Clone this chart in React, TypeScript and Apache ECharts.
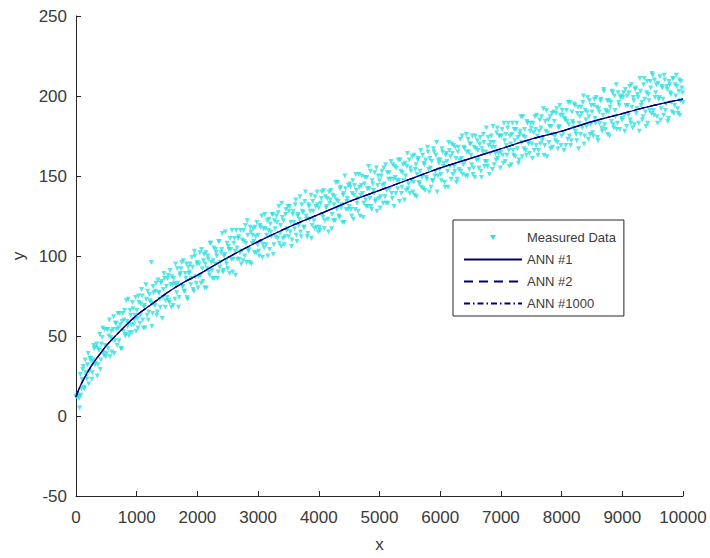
import React, { useEffect, useRef } from "react";
import * as echarts from "echarts";

// Measured data, set A: y values at x = 0, 20, 40, ... 10000
const measuredXStep = 20;
const measuredYA: number[] = [
  12, 13, 12, 5, 13, 23, 31, 17, 27, 23, 39, 28, 36, 23, 35, 42, 33, 45, 32, 41, 29, 45, 55, 38, 44,
  39, 54, 50, 37, 53, 48, 62, 47, 58, 44, 55, 64, 42, 59, 53, 66, 51, 59, 73, 52, 63, 52, 67, 60, 74,
  66, 55, 71, 63, 79, 60, 68, 55, 73, 78, 65, 72, 96, 64, 77, 69, 83, 65, 77, 73, 83, 61, 79, 86, 72,
  74, 88, 71, 82, 87, 69, 83, 95, 77, 83, 74, 89, 96, 81, 78, 89, 95, 73, 89, 95, 86, 93, 78, 100, 83,
  96, 87, 102, 83, 92, 97, 80, 102, 92, 98, 88, 108, 91, 97, 86, 104, 100, 90, 109, 96, 104, 90, 100, 115, 95,
  92, 104, 111, 98, 90, 108, 103, 116, 98, 112, 102, 95, 110, 116, 100, 108, 122, 103, 96, 115, 108, 117, 102, 112, 121,
  113, 100, 118, 125, 107, 105, 117, 113, 100, 123, 120, 112, 126, 107, 117, 125, 111, 131, 114, 106, 124, 122, 112, 129, 117,
  112, 131, 121, 110, 128, 117, 135, 109, 126, 123, 115, 132, 127, 118, 140, 123, 114, 131, 128, 111, 134, 122, 137, 118, 132,
  130, 116, 136, 126, 141, 122, 130, 136, 115, 133, 141, 126, 122, 137, 146, 129, 134, 124, 143, 132, 138, 121, 142, 134, 129,
  131, 143, 125, 147, 138, 129, 141, 136, 151, 125, 144, 139, 133, 149, 131, 142, 156, 136, 131, 147, 141, 152, 135, 128, 150,
  147, 137, 153, 133, 145, 157, 141, 133, 152, 148, 139, 157, 131, 149, 155, 142, 147, 160, 139, 152, 147, 158, 141, 164, 145,
  139, 153, 162, 146, 138, 157, 151, 161, 145, 166, 149, 142, 157, 160, 148, 165, 140, 155, 159, 147, 165, 153, 171, 150, 158,
  160, 147, 165, 158, 143, 164, 153, 171, 156, 148, 164, 169, 153, 161, 148, 168, 160, 153, 175, 157, 167, 150, 165, 173, 154,
  170, 157, 151, 168, 175, 160, 166, 155, 174, 149, 165, 171, 159, 180, 156, 169, 164, 175, 154, 171, 168, 160, 180, 164, 175,
  165, 179, 158, 172, 176, 163, 183, 156, 170, 176, 166, 179, 162, 183, 174, 160, 178, 171, 187, 167, 174, 163, 183, 170, 178,
  180, 161, 177, 187, 169, 175, 166, 185, 180, 172, 192, 169, 178, 162, 185, 181, 167, 189, 176, 184, 172, 192, 167, 181, 188,
  175, 188, 166, 185, 191, 173, 182, 196, 172, 184, 180, 194, 176, 189, 167, 187, 193, 180, 200, 175, 185, 190, 173, 197, 182,
  190, 175, 198, 183, 193, 172, 190, 197, 180, 188, 203, 179, 190, 176, 197, 193, 184, 202, 180, 191, 207, 183, 196, 179, 200,
  185, 202, 178, 194, 200, 188, 206, 183, 193, 199, 182, 205, 192, 199, 178, 203, 196, 187, 211, 190, 202, 183, 197, 209, 189,
  213, 188, 199, 207, 183, 198, 212, 192, 205, 188, 210, 195, 204, 186, 207, 201, 190, 211, 194, 200, 206, 189, 210, 197, 205,
  196,
];

// Measured data, set B: y values at x = 10, 30, 50, ... 9990
const measuredXOffsetB = 10;
const measuredYB: number[] = [
  12, 13, 11, 26, 17, 29, 18, 35, 25, 32, 20, 36, 34, 27, 44, 32, 43, 25, 42, 51, 35, 49, 40, 54, 37,
  54, 42, 60, 49, 40, 54, 39, 58, 54, 64, 47, 57, 42, 64, 60, 50, 72, 56, 50, 66, 57, 71, 57, 63, 53,
  61, 75, 58, 70, 75, 55, 69, 82, 63, 60, 76, 71, 56, 81, 70, 78, 63, 85, 77, 68, 84, 74, 89, 68, 81,
  86, 72, 91, 68, 82, 86, 73, 82, 92, 68, 88, 92, 81, 97, 78, 86, 74, 93, 90, 82, 99, 79, 103, 87, 95,
  80, 95, 88, 104, 84, 101, 95, 80, 100, 90, 108, 96, 86, 105, 95, 102, 86, 109, 93, 102, 114, 91, 101, 97, 108,
  106, 89, 104, 116, 98, 111, 88, 105, 111, 98, 116, 103, 97, 109, 119, 96, 113, 104, 118, 95, 113, 109, 118, 102, 107,
  103, 119, 109, 99, 117, 126, 107, 122, 116, 104, 115, 126, 101, 122, 112, 121, 127, 108, 119, 133, 111, 107, 126, 116, 131,
  128, 115, 106, 126, 121, 132, 113, 125, 119, 137, 112, 128, 118, 134, 125, 112, 132, 123, 138, 119, 128, 117, 131, 140, 115,
  118, 133, 140, 124, 117, 137, 131, 123, 140, 135, 117, 138, 132, 122, 135, 146, 125, 142, 130, 121, 139, 150, 129, 136, 144,
  145, 129, 139, 123, 144, 151, 133, 128, 143, 138, 150, 124, 145, 135, 149, 131, 142, 153, 129, 145, 139, 134, 155, 144, 136,
  130, 150, 144, 155, 137, 133, 152, 148, 142, 159, 136, 148, 156, 139, 147, 160, 134, 153, 143, 157, 135, 150, 156, 142, 160,
  155, 147, 140, 163, 154, 137, 160, 146, 153, 143, 163, 158, 141, 149, 168, 154, 161, 143, 147, 167, 150, 163, 140, 160, 154,
  151, 167, 156, 146, 163, 159, 143, 166, 162, 170, 151, 156, 168, 146, 165, 154, 173, 161, 151, 168, 159, 176, 150, 165, 170,
  163, 175, 155, 149, 167, 172, 160, 170, 153, 167, 176, 156, 165, 159, 174, 151, 171, 168, 181, 157, 164, 177, 161, 175, 155,
  175, 163, 183, 159, 169, 180, 166, 175, 157, 183, 163, 172, 179, 167, 158, 176, 187, 162, 175, 179, 166, 184, 171, 164, 183,
  170, 183, 166, 179, 188, 163, 178, 170, 187, 174, 163, 184, 191, 177, 171, 187, 181, 168, 190, 175, 189, 171, 180, 194, 169,
  191, 177, 186, 169, 184, 196, 175, 169, 190, 183, 195, 178, 172, 193, 183, 176, 189, 196, 170, 191, 181, 199, 187, 176, 194,
  177, 194, 186, 199, 174, 192, 183, 198, 178, 204, 182, 191, 197, 190, 175, 196, 203, 182, 200, 187, 179, 202, 194, 199, 186,
  199, 188, 204, 181, 194, 202, 185, 207, 180, 197, 204, 189, 201, 183, 211, 194, 185, 207, 198, 181, 209, 201, 191, 205, 214,
  191, 210, 202, 187, 208, 199, 185, 206, 198, 213, 191, 206, 184, 209, 202, 196, 211, 189, 207, 213, 192, 203, 188, 209, 202,
];

// ANN fits (all three networks overlap)
const annX = [0, 50, 100, 200, 300, 400, 500, 750, 1000, 1250, 1500, 1750, 2000, 2500, 3000, 3500, 4000, 4500, 5000, 5500, 6000, 6500, 7000, 7500, 8000, 8500, 9000, 9500, 10000];
const ann1Y = [12, 17, 21, 28, 34, 39, 44, 54, 63, 70, 77, 83, 88, 99, 109, 118, 126, 134, 141, 148, 155, 161, 167, 173, 178, 184, 189, 194, 198];
const ann2Y = [12, 17, 21, 28, 34, 39, 44, 54, 63, 70, 77, 83, 88, 99, 109, 118, 126, 134, 141, 148, 155, 161, 167, 173, 178, 184, 189, 194, 198];
const ann1000Y = [12, 17, 21, 28, 34, 39, 44, 54, 63, 70, 77, 83, 88, 99, 109, 118, 126, 134, 141, 148, 155, 161, 167, 173, 178, 184, 189, 194, 198];

const seriesNames = ["Measured Data", "ANN #1", "ANN #2", "ANN #1000"];

export default function App() {
  const ref = useRef<HTMLDivElement>(null);
  useEffect(() => {
    if (!ref.current) return;
    const chart = echarts.init(ref.current, undefined, { renderer: "svg" });
    const axisColor = "#262626";
    const labelColor = "#3a3a3a";
    const font = "Liberation Sans, Arial, Helvetica, sans-serif";
    const measured = [
      ...measuredYA.map((y, i) => [i * measuredXStep, y]),
      ...measuredYB.map((y, i) => [measuredXOffsetB + i * measuredXStep, y]),
    ];
    const pair = (ys: number[]) => annX.map((x, i) => [x, ys[i]]);
    const lineColor = "#00007a";
    const markerColor = "#2ee0e0";
    chart.setOption({
      animation: false,
      backgroundColor: "#ffffff",
      textStyle: { fontFamily: font },
      grid: { left: 76, right: 27, top: 16, bottom: 61, containLabel: false },
      xAxis: {
        type: "value",
        min: 0,
        max: 10000,
        interval: 1000,
        name: "x",
        nameLocation: "middle",
        nameGap: 40,
        nameTextStyle: { fontSize: 17, color: labelColor, fontFamily: font },
        axisLine: { show: true, onZero: false, lineStyle: { color: axisColor, width: 1 } },
        axisTick: { show: true, inside: true, length: 5, lineStyle: { color: axisColor } },
        axisLabel: {
          fontSize: 17,
          color: labelColor,
          margin: 13,
          fontFamily: font,
          formatter: (v: number) => String(v),
        },
        splitLine: { show: false },
      },
      yAxis: {
        type: "value",
        min: -50,
        max: 250,
        interval: 50,
        name: "y",
        nameLocation: "middle",
        nameGap: 49,
        nameTextStyle: { fontSize: 17, color: labelColor, fontFamily: font },
        axisLine: { show: true, onZero: false, lineStyle: { color: axisColor, width: 1 } },
        axisTick: { show: true, inside: true, length: 5, lineStyle: { color: axisColor } },
        axisLabel: {
          fontSize: 17,
          color: labelColor,
          margin: 9,
          fontFamily: font,
          formatter: (v: number) => String(v),
        },
        splitLine: { show: false },
      },
      legend: {
        orient: "vertical",
        left: 453,
        top: 220,
        padding: [10, 8, 6, 10],
        itemWidth: 58,
        itemHeight: 14,
        itemGap: 9,
        borderColor: axisColor,
        borderWidth: 1,
        backgroundColor: "#ffffff",
        itemStyle: { opacity: 0 },
        textStyle: { fontSize: 13, color: labelColor, fontFamily: font },
        data: [
          {
            name: seriesNames[0],
            icon: "path://M0,0L0,0M26,5L32,5L29,10ZM58,14L58,14",
            itemStyle: { opacity: 1, color: markerColor },
          },
          { name: seriesNames[1] },
          { name: seriesNames[2] },
          { name: seriesNames[3] },
        ],
      },
      series: [
        {
          name: seriesNames[0],
          type: "scatter",
          data: measured,
          symbol: "triangle",
          symbolRotate: 180,
          symbolSize: 5,
          itemStyle: { color: markerColor },
          z: 1,
        },
        {
          name: seriesNames[1],
          type: "line",
          data: pair(ann1Y),
          symbol: "none",
          smooth: 0.3,
          lineStyle: { color: lineColor, width: 1.2, type: "solid" },
          z: 3,
        },
        {
          name: seriesNames[2],
          type: "line",
          data: pair(ann2Y),
          symbol: "none",
          smooth: 0.3,
          lineStyle: { color: lineColor, width: 1.2, type: [9, 6] },
          z: 3,
        },
        {
          name: seriesNames[3],
          type: "line",
          data: pair(ann1000Y),
          symbol: "none",
          smooth: 0.3,
          lineStyle: { color: lineColor, width: 1.2, type: [6, 3, 1.5, 3] },
          z: 3,
        },
      ],
    });
    return () => chart.dispose();
  }, []);
  return (
    <div
      ref={ref}
      style={{ position: "absolute", left: 0, top: 0, width: 710, height: 558, background: "#fff" }}
    />
  );
}
